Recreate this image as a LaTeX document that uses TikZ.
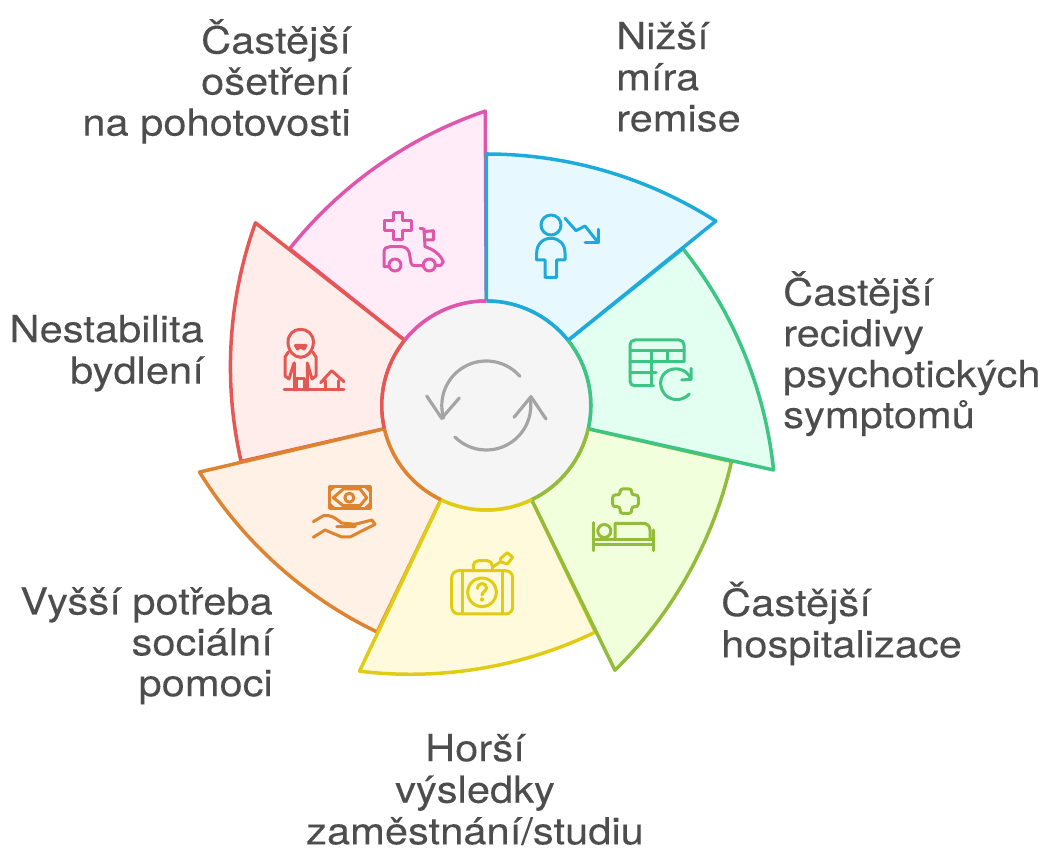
\documentclass[tikz,border=0pt]{standalone}
\usepackage{fontspec}
\setmainfont[FakeStretch=1.115,FakeBold=0.1]{TeX Gyre Heros}
\definecolor{txt}{HTML}{4D4D4D}
\definecolor{bluS}{HTML}{1EABDA}\definecolor{bluF}{HTML}{E7F9FF}
\definecolor{grnS}{HTML}{3CC583}\definecolor{grnF}{HTML}{E2FFF1}
\definecolor{limS}{HTML}{92BC39}\definecolor{limF}{HTML}{F2FFDC}
\definecolor{yelS}{HTML}{E0CB15}\definecolor{yelF}{HTML}{FFFADC}
\definecolor{oraS}{HTML}{DE8431}\definecolor{oraF}{HTML}{FFF1E5}
\definecolor{redS}{HTML}{E55753}\definecolor{redF}{HTML}{FFEDEC}
\definecolor{pnkS}{HTML}{E056AD}\definecolor{pnkF}{HTML}{FFECF8}
\definecolor{cenF}{HTML}{F5F5F5}\definecolor{cenS}{HTML}{A5A5A5}
\newcommand{\wedgeat}[3]{% angle, stroke, fill
  \draw[sector,draw=#2,fill=#3] (#1:251.5) arc[start angle=#1,delta angle=-32.6,radius=426]
     -- (#1-51.43:104.5) arc[start angle=#1-51.43,delta angle=51.43,radius=104.5] -- cycle;}
\newcommand{\rimat}[2]{\draw[rim,draw=#2] (#1:104.5) arc[start angle=#1,delta angle=-51.43,radius=104.5];}
\newcommand{\firstline}{\rule{0pt}{30bp}}
\tikzset{
  sector/.style={line width=3.5bp,line join=round},
  rim/.style={line width=3.5bp},
  icon/.style={line width=3bp,line cap=round,line join=round,fill=none},
  lbl/.style={inner sep=0pt,text=txt,font=\fontsize{37.5}{#1}\selectfont},
}
\begin{document}
\begin{tikzpicture}[x=1bp,y=1bp]
\useasboundingbox (0,0) rectangle (1047,848);
\begin{scope}[shift={(486.3,442.5)}]
  % draw order: each sector's outgoing edge lies on top of the next one
  \wedgeat{141.43}{pnkS}{pnkF}
  \wedgeat{192.86}{redS}{redF}
  \wedgeat{244.29}{oraS}{oraF}
  \wedgeat{295.71}{yelS}{yelF}
  \wedgeat{347.14}{limS}{limF}
  \wedgeat{38.57}{grnS}{grnF}
  \wedgeat{90}{bluS}{bluF}
  \fill[cenF] (0,0) circle[radius=104.5];
  \rimat{90}{bluS}\rimat{38.57}{grnS}\rimat{347.14}{limS}\rimat{295.71}{yelS}
  \rimat{244.29}{oraS}\rimat{192.86}{redS}\rimat{141.43}{pnkS}
  % centre cycle icon
  \draw[icon,draw=cenS,line width=3.2bp] (41:44.5) arc[start angle=41,end angle=196.5,radius=44.5];
  \draw[icon,draw=cenS,line width=3.2bp] (225:44.5) arc[start angle=225,end angle=370,radius=44.5];
\end{scope}
\begin{scope}[y=-1bp,shift={(0,-848)}]
  % centre arrow heads
  \draw[icon,draw=cenS,line width=3.2bp] (426.7,396)--(441.7,418.3)--(459.3,398);
  \draw[icon,draw=cenS,line width=3.2bp] (514,417.3)--(531,396.7)--(546,419);
  % blue: person and falling arrow
  \draw[icon,draw=bluS] (551,225) circle[radius=10];
  \draw[icon,draw=bluS] (556.7,260)--(556.7,277.3)--(545,277.3)--(545,260)--(536.7,260)--(536.7,253)
     .. controls (536.7,244) and (543,238.3) .. (551,238.3)
     .. controls (559,238.3) and (565,244) .. (565,253)--(565,260)--cycle;
  \draw[icon,draw=bluS] (565,218.3)--(576,230.7)--(585,226)--(598.3,242.7)--(598.3,229.3);
  \draw[icon,draw=bluS] (598.3,242.7)--(585,242.7);
  % pink: plus and scooter ambulance
  \draw[icon,draw=pnkS] (393.3,212.7)--(402,212.7)--(402,221)--(411.7,221)--(411.7,231)--(402,231)--(402,239.3)--(393.3,239.3)--(393.3,231)--(384,231)--(384,221)--(393.3,221)--cycle;
  \draw[icon,draw=pnkS] (389,266.7)--(384,266.7)--(384,252) .. controls (384,248) and (387,246.7) .. (390,246.7)--(401.7,246.7)
     .. controls (406,247) and (409,250) .. (409.5,254)--(411,263) .. controls (411.5,265) and (413,265.7) .. (415,265.7)--(423.3,265.7);
  \draw[icon,draw=pnkS] (395,265) circle[radius=6];
  \draw[icon,draw=pnkS] (429.3,265) circle[radius=6];
  \draw[icon,draw=pnkS] (420,228.3)--(424,229)--(425,246.7) .. controls (433,249) and (441,255) .. (443.3,262)--(440.7,265.5)--(435.3,265.5);
  \draw[icon,draw=pnkS] (424,231.7)--(433.3,230.7)--(433.3,240)--(425,240);
  % red: figure and house
  \draw[icon,draw=redS] (288,342) .. controls (288,334) and (294,329.3) .. (300.7,329.3) .. controls (307,329.3) and (313.4,334) .. (313.4,342)
     .. controls (313.4,351) and (307,357.3) .. (300.7,357.3) .. controls (294,357.3) and (288,351) .. (288,342) -- cycle;
  \draw[icon,draw=redS,fill=redS] (295.5,345.5)--(306,345.5)--(304,349)--(301.5,347.5)--(299.5,347.5)--(297.5,349)--cycle;
  \draw[icon,draw=redS] (288.3,352)--(285,357)--(285,376)--(289,379)--(294,363);
  \draw[icon,draw=redS] (294,363)--(294,390);
  \draw[icon,draw=redS] (312.7,352)--(316,357)--(316,376)--(312,379)--(307.3,363)--(307.3,390);
  \draw[icon,draw=redS] (296.7,390)--(296.7,378.3)--(304.3,378.3)--(304.3,390);
  \draw[icon,draw=redS] (284,390)--(344,390);
  \draw[icon,draw=redS] (320.7,382.7)--(331.7,370.7)--(344,381.7);
  \draw[icon,draw=redS] (325,380.7)--(325,390);
  \draw[icon,draw=redS] (338.3,380.7)--(338.3,390);
  % orange: banknote and hand
  \draw[icon,draw=oraS] (329.3,486.7) rectangle (370,508.3);
  \draw[icon,draw=oraS] (333.3,497.7)--(343.3,489)--(360,489)--(366.7,497.7)--(360,505.7)--(343.3,505.7)--cycle;
  \draw[icon,draw=oraS] (349.3,497.7) circle[radius=4.5];
  \draw[icon,draw=oraS] (329.3,491)--(334,486.7);\draw[icon,draw=oraS] (365.5,486.7)--(370,491);
  \draw[icon,draw=oraS] (329.3,504)--(334,508.3);\draw[icon,draw=oraS] (365.5,508.3)--(370,504);
  \draw[icon,draw=oraS] (313.3,521.7)--(323.3,515.7) .. controls (330,514.5) and (334,517) .. (341.7,523)--(355,524.3)--(355,526.7)--(336.7,526.7);
  \draw[icon,draw=oraS] (355,524.3)--(372,520)--(375,524.3)--(350,537)--(341.7,537)--(325,530)--(313.3,537.3);
  % yellow: suitcase with question mark
  \draw[icon,draw=yelS,rounded corners=7bp] (451.7,570.7) rectangle (512.7,614);
  \draw[icon,draw=yelS] (462.3,570.7)--(462.3,614);
  \draw[icon,draw=yelS] (502.7,570.7)--(502.7,614);
  \draw[icon,draw=yelS] (482,592.3) circle[radius=14.3];
  \draw[icon,draw=yelS] (477.5,588.5) .. controls (477.5,582) and (486.5,582) .. (486.5,588) .. controls (486.5,591.5) and (482,591.5) .. (482,595);
  \fill[yelS] (482,599.5) circle[radius=2.1];
  \draw[icon,draw=yelS,rounded corners=5bp] (473.3,570)--(473.3,560.7)--(492.3,560.7)--(492.3,570);
  \draw[icon,draw=yelS] (492.3,567.3)--(500.7,561.7);
  \draw[icon,draw=yelS] (500.7,558.3)--(507.3,552.7)--(512.7,557.3)--(507.3,564)--(500.7,561.7)--cycle;
  % lime: plus and bed
  \draw[icon,draw=limS,rounded corners=2.5bp] (620,489)--(631.7,489)--(631.7,495)--(638.3,495)--(638.3,506.7)--(631.7,506.7)--(631.7,513.3)--(620,513.3)--(620,506.7)--(612.7,506.7)--(612.7,495)--(620,495)--cycle;
  \draw[icon,draw=limS] (593.3,522.7)--(593.3,550.7);
  \draw[icon,draw=limS] (653.3,530)--(653.3,550.7);
  \draw[icon,draw=limS] (593.3,539.3)--(653.3,539.3);
  \draw[icon,draw=limS] (593.3,544.5)--(653.3,544.5);
  \draw[icon,draw=limS] (604.3,531) circle[radius=6.5];
  \draw[icon,draw=limS] (615,538.3)--(615,523.3)--(643.3,523.3) .. controls (647,523.3) and (650,526) .. (650,530)--(650,538.3);
  % green: table and refresh
  \draw[icon,draw=grnS] (684,361.7)--(684,345) .. controls (684,342) and (682,340) .. (679,340)--(635,340) .. controls (632,340) and (630,342) .. (630,345)--(630,381) .. controls (630,384) and (632,385.7) .. (635,385.7)--(653.3,385.7);
  \draw[icon,draw=grnS] (630,350.7)--(684,350.7);
  \draw[icon,draw=grnS] (630,361.7)--(684,361.7);
  \draw[icon,draw=grnS] (630,372.7)--(656,372.7);
  \draw[icon,draw=grnS] (651.7,350.7)--(651.7,385.7);
  \draw[icon,draw=grnS] (667.3,350.7)--(667.3,361.7);
  \draw[icon,draw=grnS] (691,368.3)--(691,379.3)--(681.7,380);
  \draw[icon,draw=grnS] (689.3,394) .. controls (683,401) and (672,401.5) .. (665.5,395) .. controls (659,388) and (659,378) .. (665.5,372.5) .. controls (673,366) and (687,368) .. (691,379.3);
  % labels
  \node[lbl=41.2,anchor=north east,align=right] (lt) at (351,19) {\firstline Častější\\ošetření\\na pohotovosti};
  \node[lbl=41.2,anchor=north west,align=left] (lr) at (616,19) {\firstline Nižší\\míra\\remise};
  \node[lbl=41,anchor=north west,align=left] (lg) at (783,271) {\firstline Častější\\recidivy\\psychotických\\symptomů};
  \node[lbl=41.5,anchor=north west,align=left] (ll) at (721,581.5) {\firstline Častější\\hospitalizace};
  \node[lbl=41.7,anchor=north,align=center] (lb) at (475,731) {\firstline Horší\\výsledky\\zaměstnání/studiu};
  \node[lbl=41,anchor=north east,align=right] (lo) at (273,584.3) {\firstline Vyšší potřeba\\sociální\\pomoci};
  \node[lbl=41.5,anchor=north east,align=right] (lr2) at (204,312) {\firstline Nestabilita\\bydlení};
\end{scope}
\end{tikzpicture}
\end{document}
